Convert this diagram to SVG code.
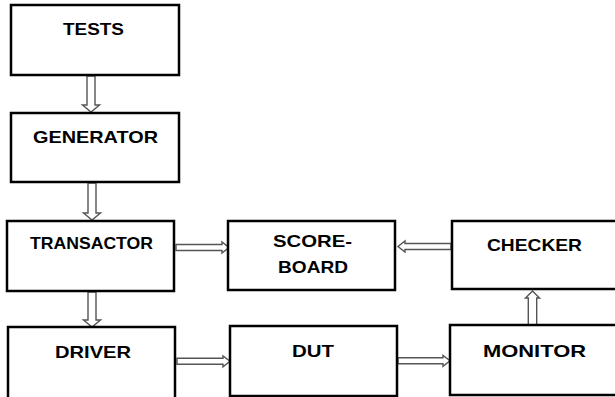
<svg xmlns="http://www.w3.org/2000/svg" width="615" height="397" viewBox="0 0 615 397">
<style>
.box{fill:#fff;stroke:#000;stroke-width:2.5}
.lbl{font-family:"Liberation Sans",Arial,sans-serif;font-weight:bold;font-size:16.5px;fill:#000}
.arr{fill:#fff;stroke:#555;stroke-width:1.4;stroke-linejoin:miter}
</style>
<rect width="615" height="397" fill="#fff"/>
<g id="connectors">
<polygon class="arr" points="87,76 95,76 95,105 99.5,105 91,112 82.5,105 87,105"/>
<polygon class="arr" points="88,183 96,183 96,213 100.5,213 92,220 83.5,213 88,213"/>
<polygon class="arr" points="88,292 96,292 96,320 100.5,320 92,327 83.5,320 88,320"/>
<polygon class="arr" points="176,244.5 222,244.5 222,242 229,247.5 222,253 222,250.5 176,250.5"/>
<polygon class="arr" points="451,243.5 405,243.5 405,241 398,246.5 405,252 405,249.5 451,249.5"/>
<polygon class="arr" points="177,358.3 223,358.3 223,356 230,361.3 223,366.8 223,364.3 177,364.3"/>
<polygon class="arr" points="398,357.8 443,357.8 443,355.5 450,360.8 443,366.3 443,363.8 398,363.8"/>
<polygon class="arr" points="528.3,325 536.7,325 536.7,298 539.5,298 532.5,291 525.5,298 528.3,298"/>
</g>
<g id="tests"><rect class="box" x="11" y="5" width="168" height="70"/><text class="lbl" x="63" y="35" textLength="61" lengthAdjust="spacingAndGlyphs">TESTS</text></g>
<g id="generator"><rect class="box" x="11" y="113" width="168" height="69"/><text class="lbl" x="33" y="143" textLength="125" lengthAdjust="spacingAndGlyphs">GENERATOR</text></g>
<g id="transactor"><rect class="box" x="7" y="221" width="167" height="70"/><text class="lbl" x="30" y="249" font-size="15" textLength="123" lengthAdjust="spacingAndGlyphs">TRANSACTOR</text></g>
<g id="scoreboard"><rect class="box" x="228" y="221" width="167" height="69"/><text class="lbl" x="273" y="247" textLength="79" lengthAdjust="spacingAndGlyphs">SCORE-</text><text class="lbl" x="278" y="273" textLength="70" lengthAdjust="spacingAndGlyphs">BOARD</text></g>
<g id="checker"><rect class="box" x="452" y="221" width="175" height="68"/><text class="lbl" x="487" y="251" textLength="95" lengthAdjust="spacingAndGlyphs">CHECKER</text></g>
<g id="driver"><rect class="box" x="8" y="327" width="167" height="72"/><text class="lbl" x="55" y="358" textLength="76" lengthAdjust="spacingAndGlyphs">DRIVER</text></g>
<g id="dut"><rect class="box" x="230" y="326" width="167" height="70"/><text class="lbl" x="292" y="357" textLength="42" lengthAdjust="spacingAndGlyphs">DUT</text></g>
<g id="monitor"><rect class="box" x="450" y="325" width="175" height="70"/><text class="lbl" x="483" y="357" textLength="103" lengthAdjust="spacingAndGlyphs">MONITOR</text></g>
</svg>
